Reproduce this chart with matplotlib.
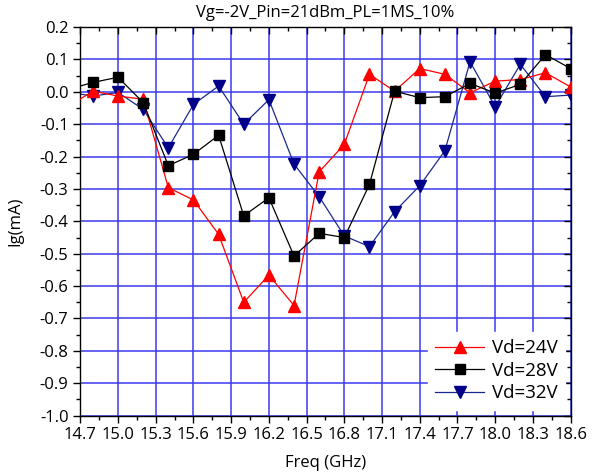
import matplotlib
matplotlib.use("Agg")
import matplotlib.pyplot as plt
import matplotlib.ticker as mticker

plt.rcParams["font.family"] = ["Open Sans", "DejaVu Sans"]

# frequency points (GHz); first/last fall outside the axis and get clipped
freq = [14.6, 14.8, 15.0, 15.2, 15.4, 15.6, 15.8, 16.0, 16.2, 16.4, 16.6,
        16.8, 17.0, 17.2, 17.4, 17.6, 17.8, 18.0, 18.2, 18.4, 18.6]

ig_24v = [-0.046, 0.002, -0.013, -0.023, -0.296, -0.334, -0.440, -0.650, -0.566,
          -0.660, -0.247, -0.162, 0.054, 0.002, 0.072, 0.054, -0.003, 0.033,
          0.038, 0.059, 0.015]
ig_28v = [0.007, 0.029, 0.045, -0.033, -0.228, -0.193, -0.134, -0.383, -0.327,
          -0.507, -0.437, -0.450, -0.286, 0.002, -0.018, -0.015, 0.026, -0.004,
          0.023, 0.115, 0.072]
ig_32v = [-0.001, -0.013, -0.002, -0.054, -0.173, -0.039, 0.018, -0.100, -0.024,
          -0.223, -0.324, -0.445, -0.478, -0.370, -0.290, -0.182, 0.093, -0.046,
          0.085, -0.015, -0.010]

labels = ["Vd=24V", "Vd=28V", "Vd=32V"]
title = "Vg=-2V_Pin=21dBm_PL=1MS_10%"

fig = plt.figure(figsize=(5.95, 4.75), dpi=100)
ax = fig.add_axes([0.135, 0.125, 0.824, 0.818])

grid_color = "#3b3bf0"
ax.grid(True, which="major", color=grid_color, linewidth=1.1, zorder=0)

ax.plot(freq, ig_24v, color="red", linewidth=0.9, marker="^", markersize=8,
        markerfacecolor="red", markeredgecolor="red", label=labels[0], zorder=3)
ax.plot(freq, ig_28v, color="black", linewidth=0.9, marker="s", markersize=6.5,
        markerfacecolor="black", markeredgecolor="black", label=labels[1], zorder=4)
ax.plot(freq, ig_32v, color="#1a2a8c", linewidth=0.9, marker="v", markersize=8,
        markerfacecolor="#00008b", markeredgecolor="#00008b", label=labels[2], zorder=2)

ax.set_xlim(14.7, 18.6)
ax.set_ylim(-1.0, 0.2)
ax.xaxis.set_major_locator(mticker.MultipleLocator(0.3))
ax.xaxis.set_minor_locator(mticker.MultipleLocator(0.15))
ax.yaxis.set_major_locator(mticker.MultipleLocator(0.1))
ax.yaxis.set_minor_locator(mticker.MultipleLocator(0.05))
ax.xaxis.set_major_formatter(mticker.FormatStrFormatter("%.1f"))
ax.yaxis.set_major_formatter(mticker.FormatStrFormatter("%.1f"))

ax.tick_params(axis="both", which="both", direction="out", labelsize=12, width=1.0,
               top=True, right=True)
ax.tick_params(axis="both", which="major", length=5)
ax.tick_params(axis="both", which="minor", length=3)
# top and right ticks point inward, like the original
for t in ax.xaxis.get_ticklines(minor=False)[1::2] + ax.xaxis.get_ticklines(minor=True)[1::2]:
    t.set_marker(3)
for t in ax.yaxis.get_ticklines(minor=False)[1::2] + ax.yaxis.get_ticklines(minor=True)[1::2]:
    t.set_marker(0)

for sp in ax.spines.values():
    sp.set_linewidth(1.0)
    sp.set_color("black")

ax.set_title(title, fontsize=12, pad=7)
ax.set_xlabel("Freq (GHz)", fontsize=12, labelpad=8)
ax.set_ylabel("Ig(mA)", fontsize=12, labelpad=12)

leg = ax.legend(loc="lower right", fontsize=13.5, frameon=True, fancybox=False,
                framealpha=1.0, edgecolor="white", borderaxespad=0.3,
                handlelength=2.6, numpoints=1, labelspacing=0.25, handletextpad=0.4)
leg.set_zorder(6)

fig.savefig("out.png", dpi=100)
